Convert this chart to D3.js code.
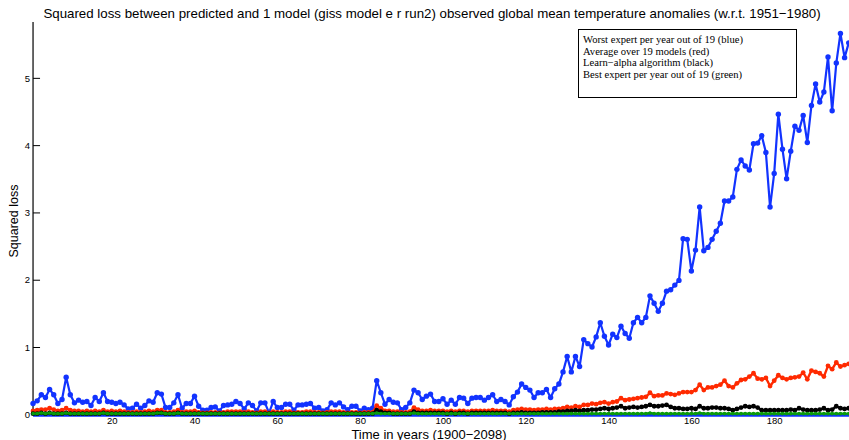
<!DOCTYPE html>
<html>
<head>
<meta charset="utf-8">
<script src="https://cdn.jsdelivr.net/npm/d3@7"></script>
<style>
  html, body { margin: 0; padding: 0; background: #fff; }
  svg { display: block; }
</style>
</head>
<body>
<svg id="chart" width="849" height="440"></svg>
<script>
// Squared loss per year, index 1..198 (years 1900 onward)
const worstExpert = [
  0.16,0.20,0.29,0.25,0.37,0.29,0.16,0.22,0.55,0.29,
  0.17,0.21,0.18,0.19,0.13,0.25,0.19,0.32,0.19,0.18,
  0.16,0.18,0.14,0.08,0.09,0.15,0.09,0.13,0.20,0.18,
  0.32,0.30,0.10,0.10,0.17,0.29,0.09,0.16,0.16,0.27,
  0.12,0.06,0.06,0.10,0.11,0.05,0.13,0.14,0.15,0.19,
  0.16,0.08,0.17,0.13,0.05,0.17,0.17,0.02,0.19,0.10,
  0.10,0.15,0.15,0.06,0.14,0.14,0.15,0.16,0.09,0.10,
  0.05,0.07,0.17,0.14,0.17,0.11,0.07,0.12,0.12,0.05,
  0.09,0.07,0.09,0.50,0.32,0.15,0.22,0.18,0.17,0.07,
  0.10,0.17,0.36,0.32,0.22,0.27,0.30,0.19,0.19,0.23,
  0.15,0.21,0.15,0.25,0.24,0.16,0.24,0.25,0.25,0.21,
  0.25,0.29,0.19,0.22,0.19,0.14,0.26,0.33,0.45,0.40,
  0.36,0.25,0.32,0.32,0.37,0.25,0.38,0.45,0.63,0.86,
  0.63,0.86,0.71,1.11,1.05,1.00,1.15,1.36,1.16,1.03,
  1.19,1.14,1.31,1.20,1.13,1.36,1.44,1.36,1.44,1.76,
  1.65,1.53,1.65,1.83,1.85,1.92,1.99,2.61,2.60,2.13,
  2.44,3.08,2.43,2.48,2.60,2.72,2.84,3.17,3.17,3.23,
  3.64,3.78,3.69,3.63,4.02,4.03,4.14,3.89,3.08,3.58,
  4.46,3.94,3.50,3.91,4.28,4.22,4.44,4.04,4.59,4.91,
  4.64,4.79,5.31,4.51,5.22,5.66,5.30,5.52
];

const averageModels = [
  0.05,0.06,0.07,0.07,0.09,0.07,0.05,0.06,0.09,0.06,
  0.05,0.05,0.04,0.05,0.04,0.05,0.04,0.06,0.04,0.05,
  0.04,0.05,0.04,0.03,0.03,0.04,0.03,0.04,0.05,0.04,
  0.06,0.06,0.03,0.03,0.04,0.06,0.03,0.04,0.04,0.05,
  0.03,0.02,0.02,0.03,0.03,0.02,0.03,0.04,0.04,0.04,
  0.04,0.03,0.04,0.03,0.02,0.04,0.04,0.02,0.04,0.03,
  0.03,0.04,0.04,0.02,0.03,0.03,0.04,0.04,0.03,0.03,
  0.02,0.03,0.04,0.04,0.04,0.03,0.02,0.03,0.03,0.02,
  0.03,0.03,0.03,0.13,0.09,0.05,0.05,0.04,0.04,0.03,
  0.03,0.04,0.10,0.07,0.05,0.05,0.06,0.05,0.05,0.05,
  0.04,0.05,0.04,0.05,0.05,0.04,0.05,0.05,0.05,0.05,
  0.05,0.06,0.05,0.05,0.05,0.04,0.06,0.07,0.08,0.07,
  0.07,0.06,0.07,0.07,0.08,0.07,0.08,0.08,0.09,0.11,
  0.10,0.12,0.11,0.14,0.14,0.16,0.15,0.17,0.18,0.16,
  0.18,0.19,0.24,0.21,0.22,0.23,0.24,0.25,0.26,0.32,
  0.27,0.28,0.28,0.31,0.30,0.29,0.31,0.33,0.33,0.33,
  0.36,0.44,0.36,0.40,0.40,0.42,0.44,0.50,0.42,0.40,
  0.46,0.51,0.52,0.56,0.61,0.53,0.52,0.54,0.42,0.50,
  0.58,0.54,0.52,0.54,0.55,0.56,0.62,0.52,0.65,0.63,
  0.61,0.56,0.72,0.67,0.77,0.71,0.73,0.75
];

const learnAlpha = [
  0.01,0.01,0.02,0.01,0.02,0.01,0.01,0.01,0.02,0.01,
  0.01,0.01,0.01,0.01,0.01,0.01,0.01,0.02,0.01,0.01,
  0.01,0.01,0.01,0.01,0.01,0.01,0.01,0.01,0.01,0.01,
  0.02,0.02,0.01,0.01,0.01,0.02,0.01,0.01,0.01,0.01,
  0.01,0.01,0.01,0.01,0.01,0.01,0.01,0.01,0.01,0.01,
  0.01,0.01,0.01,0.01,0.01,0.01,0.01,0.01,0.01,0.01,
  0.01,0.01,0.01,0.01,0.01,0.01,0.01,0.01,0.01,0.01,
  0.01,0.01,0.01,0.01,0.01,0.01,0.01,0.01,0.01,0.01,
  0.01,0.01,0.01,0.06,0.04,0.02,0.02,0.01,0.01,0.01,
  0.01,0.01,0.04,0.02,0.02,0.02,0.02,0.02,0.02,0.02,
  0.01,0.02,0.01,0.02,0.02,0.01,0.02,0.02,0.02,0.02,
  0.02,0.02,0.02,0.02,0.02,0.01,0.02,0.02,0.03,0.02,
  0.02,0.02,0.02,0.03,0.03,0.03,0.03,0.04,0.04,0.05,
  0.05,0.06,0.05,0.06,0.06,0.07,0.07,0.08,0.09,0.08,
  0.09,0.10,0.12,0.09,0.10,0.11,0.10,0.11,0.12,0.14,
  0.12,0.12,0.13,0.14,0.11,0.09,0.09,0.08,0.08,0.09,
  0.08,0.12,0.09,0.09,0.10,0.10,0.09,0.09,0.08,0.06,
  0.08,0.10,0.12,0.11,0.12,0.10,0.06,0.06,0.06,0.06,
  0.06,0.06,0.06,0.07,0.06,0.09,0.07,0.06,0.06,0.06,
  0.07,0.09,0.06,0.07,0.12,0.09,0.08,0.09
];

const bestExpert = [
  0.01,0.01,0.02,0.01,0.02,0.01,0.01,0.01,0.02,0.01,
  0.01,0.01,0.01,0.01,0.01,0.01,0.01,0.02,0.01,0.01,
  0.01,0.01,0.01,0.01,0.01,0.01,0.01,0.01,0.01,0.01,
  0.02,0.02,0.01,0.01,0.01,0.02,0.01,0.01,0.01,0.01,
  0.01,0.01,0.01,0.01,0.01,0.01,0.01,0.01,0.01,0.01,
  0.01,0.01,0.01,0.01,0.01,0.01,0.01,0.01,0.01,0.01,
  0.01,0.01,0.01,0.01,0.01,0.01,0.01,0.01,0.01,0.01,
  0.01,0.01,0.01,0.01,0.01,0.01,0.01,0.01,0.01,0.01,
  0.01,0.01,0.01,0.02,0.01,0.01,0.01,0.01,0.01,0.01,
  0.01,0.01,0.02,0.01,0.01,0.01,0.01,0.01,0.01,0.01,
  0.01,0.01,0.01,0.01,0.01,0.01,0.01,0.01,0.01,0.01,
  0.01,0.01,0.01,0.01,0.01,0.01,0.01,0.01,0.01,0.01,
  0.01,0.01,0.01,0.01,0.01,0.01,0.01,0.01,0.01,0.01,
  0.01,0.01,0.01,0.01,0.01,0.01,0.01,0.01,0.01,0.01,
  0.01,0.01,0.01,0.01,0.01,0.01,0.01,0.01,0.01,0.02,
  0.01,0.01,0.01,0.01,0.01,0.01,0.01,0.01,0.01,0.01,
  0.01,0.02,0.01,0.01,0.01,0.01,0.01,0.01,0.01,0.01,
  0.01,0.01,0.01,0.01,0.01,0.01,0.01,0.01,0.01,0.01,
  0.01,0.01,0.01,0.01,0.01,0.01,0.01,0.01,0.01,0.01,
  0.01,0.01,0.01,0.01,0.01,0.01,0.01,0.01
];

const xTicks = [20, 40, 60, 80, 100, 120, 140, 160, 180];
const yTicks = [0, 1, 2, 3, 4, 5];

const titleText = "Squared loss between predicted and 1 model (giss model e r run2) observed global mean temperature anomalies (w.r.t. 1951\u22121980)";
const xLabel = "Time in years (1900\u22122098)";
const yLabel = "Squared loss";
const legendLines = [
  "Worst expert per year out of 19 (blue)",
  "Average over 19 models (red)",
  "Learn\u2212alpha algorithm (black)",
  "Best expert per year out of 19 (green)"
];

const svg = d3.select("#chart");
const sans = "'Liberation Sans', Arial, Helvetica, sans-serif";
const serif = "'Liberation Serif', 'Times New Roman', serif";

const x = d3.scaleLinear().domain([0, 200]).range([28.9, 857]);
const y = d3.scaleLinear().domain([0, 5.83]).range([414.3, 22]);

// Y axis: left spine with inward ticks, labels just left of the spine
const yAxis = d3.axisLeft(y).tickValues(yTicks).tickSize(-7).tickFormat(d3.format("d"));
const gy = svg.append("g").attr("transform", `translate(${x(1)},0)`).call(yAxis);
gy.select(".domain").attr("stroke", "#000").attr("stroke-width", 1.2)
  .attr("d", `M0,${y.range()[0]}V${y.range()[1]}`);
gy.selectAll(".tick line").attr("stroke", "#000").attr("stroke-width", 1).attr("x1", 0).attr("x2", 7);
gy.selectAll(".tick text")
  .attr("x", -3).attr("dy", "0.34em").attr("text-anchor", "end")
  .attr("font-family", sans).attr("font-size", 9.5).attr("fill", "#000");

// X axis: ticks pointing up into the plot, labels just below the baseline
const xAxis = d3.axisBottom(x).tickValues(xTicks).tickSize(-5).tickFormat(d3.format("d"));
const gx = svg.append("g").attr("transform", `translate(0,${y(0)})`).call(xAxis);
gx.select(".domain").remove();
gx.selectAll(".tick line").attr("stroke", "#000").attr("stroke-width", 1).attr("y1", 0).attr("y2", -5);
gx.selectAll(".tick text")
  .attr("y", 10).attr("dy", null).attr("text-anchor", "middle")
  .attr("font-family", sans).attr("font-size", 9.5).attr("fill", "#000");

// Baseline drawn in blue along zero loss
svg.append("line")
  .attr("x1", x(1)).attr("x2", 849)
  .attr("y1", y(0) + 1).attr("y2", y(0) + 1)
  .attr("stroke", "#1030ff").attr("stroke-width", 3);

const series = [
  { values: worstExpert, color: "#1233ff", width: 2.2, r: 2.7 },
  { values: averageModels, color: "#ff2a00", width: 2.4, r: 2.4 },
  { values: learnAlpha, color: "#000000", width: 2.4, r: 2.4 },
  { values: bestExpert, color: "#0a9a0a", width: 2.4, r: 1.8 }
];

const line = d3.line().x((d, i) => x(i + 1)).y(d => y(d));

series.forEach(s => {
  const g = svg.append("g");
  g.append("path").datum(s.values)
    .attr("fill", "none").attr("stroke", s.color)
    .attr("stroke-width", s.width).attr("stroke-linejoin", "round")
    .attr("d", line);
  g.selectAll("circle").data(s.values).join("circle")
    .attr("cx", (d, i) => x(i + 1)).attr("cy", d => y(d))
    .attr("r", s.r).attr("fill", s.color);
});

// Title and axis labels
svg.append("text").attr("x", 432).attr("y", 18).attr("text-anchor", "middle")
  .attr("font-family", sans).attr("font-size", 13.3).attr("fill", "#000").text(titleText);
svg.append("text").attr("x", 429).attr("y", 438.5).attr("text-anchor", "middle")
  .attr("font-family", sans).attr("font-size", 13).attr("fill", "#000").text(xLabel);
svg.append("text").attr("transform", "translate(18,221) rotate(-90)").attr("text-anchor", "middle")
  .attr("font-family", sans).attr("font-size", 12.5).attr("fill", "#000").text(yLabel);

// Legend box
const lg = svg.append("g");
lg.append("rect").attr("x", 578.5).attr("y", 29.5).attr("width", 218).attr("height", 68)
  .attr("fill", "#fff").attr("stroke", "#000").attr("stroke-width", 1);
lg.selectAll("text").data(legendLines).join("text")
  .attr("x", 583).attr("y", (d, i) => 43 + i * 11.6)
  .attr("font-family", serif).attr("font-size", 10.6).attr("fill", "#000")
  .text(d => d);
</script>
</body>
</html>
